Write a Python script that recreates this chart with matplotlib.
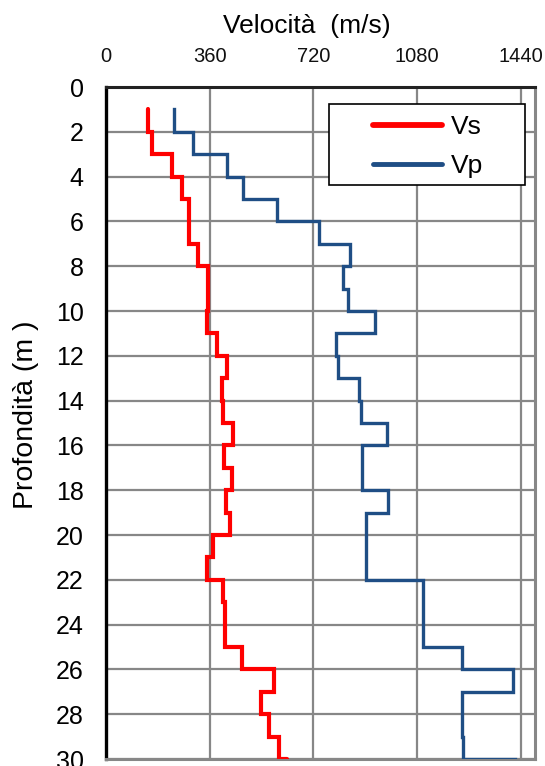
import numpy as np
import matplotlib
matplotlib.use('Agg')
import matplotlib.pyplot as plt
from matplotlib.patches import Rectangle

plt.rcParams['font.family'] = ['Liberation Sans', 'DejaVu Sans']

# layer tops (m), each layer 1 m thick
depth_top = np.arange(1, 30)

vs = [145, 159, 228, 265, 289, 289, 321, 355, 355, 350,
      384, 419, 402, 407, 440, 410, 439, 417, 432, 373,
      352, 405, 413, 413, 471, 583, 538, 567, 602]
vs_bottom = 627

vp = [236, 301, 421, 477, 593, 740, 849, 824, 841, 934,
      799, 804, 878, 884, 977, 890, 890, 980, 902, 902,
      902, 1100, 1100, 1100, 1235, 1412, 1238, 1236, 1240]
vp_bottom = 1420

x_ticks = [0, 360, 720, 1080, 1440]
y_ticks = list(range(0, 31, 2))


def step_profile(values, last):
    # vertical segment for each layer, then jump to the next value
    xs = np.append(np.repeat(values, 2), last)
    ys = np.append(np.column_stack([depth_top, depth_top + 1]).ravel(), depth_top[-1] + 1)
    return xs, ys


fig = plt.figure(figsize=(5.45, 7.66), dpi=100)
ax = fig.add_axes([0.1945, 0.0091, 0.7872, 0.8773])

ax.set_xlim(0, 1490)
ax.set_ylim(30, 0)
ax.xaxis.tick_top()
ax.set_xticks(x_ticks)
ax.set_yticks(y_ticks)
ax.tick_params(axis='x', length=0, pad=15, labelsize=14.5, labelcolor='#111111')
ax.tick_params(axis='y', length=0, pad=16, labelsize=18)
ax.grid(True, color='#878787', lw=1.6)
ax.set_axisbelow(True)

for side in ['right', 'bottom']:
    ax.spines[side].set_color('#878787')
    ax.spines[side].set_linewidth(2.2)
ax.spines['left'].set_color('black')
ax.spines['left'].set_linewidth(2.4)
ax.spines['top'].set_color('#222222')
ax.spines['top'].set_linewidth(2.2)

xs, ys = step_profile(vs, vs_bottom)
ax.plot(xs, ys, color='#ff0000', lw=3.0, label='Vs', solid_joinstyle='miter',
        solid_capstyle='round', zorder=3)
xs, ys = step_profile(vp, vp_bottom)
ax.plot(xs, ys, color='#1f4e85', lw=2.4, label='Vp', solid_joinstyle='miter', zorder=3)

# legend box
ax.add_patch(Rectangle((0.520, 0.854), 0.457, 0.121, transform=ax.transAxes,
                       facecolor='white', edgecolor='black', lw=1.2, zorder=4))
leg = ax.legend(loc='upper left', bbox_to_anchor=(0.623, 0.958), frameon=False,
                fontsize=19, handlelength=2.6, handletextpad=0.35, labelspacing=0.56,
                borderpad=0, borderaxespad=0)
leg.set_zorder(5)
for line, w in zip(leg.get_lines(), [4.2, 3.5]):
    line.set_linewidth(w)
    line.set_solid_capstyle('round')

fig.text(307 / 545, 1 - 26 / 766, 'Velocità  (m/s)', ha='center', va='center', fontsize=19)
fig.text(26 / 545, 1 - 415 / 766, 'Profondità (m )', ha='center', va='center',
         rotation=90, fontsize=20.5)

fig.savefig('out.png', dpi=100)
